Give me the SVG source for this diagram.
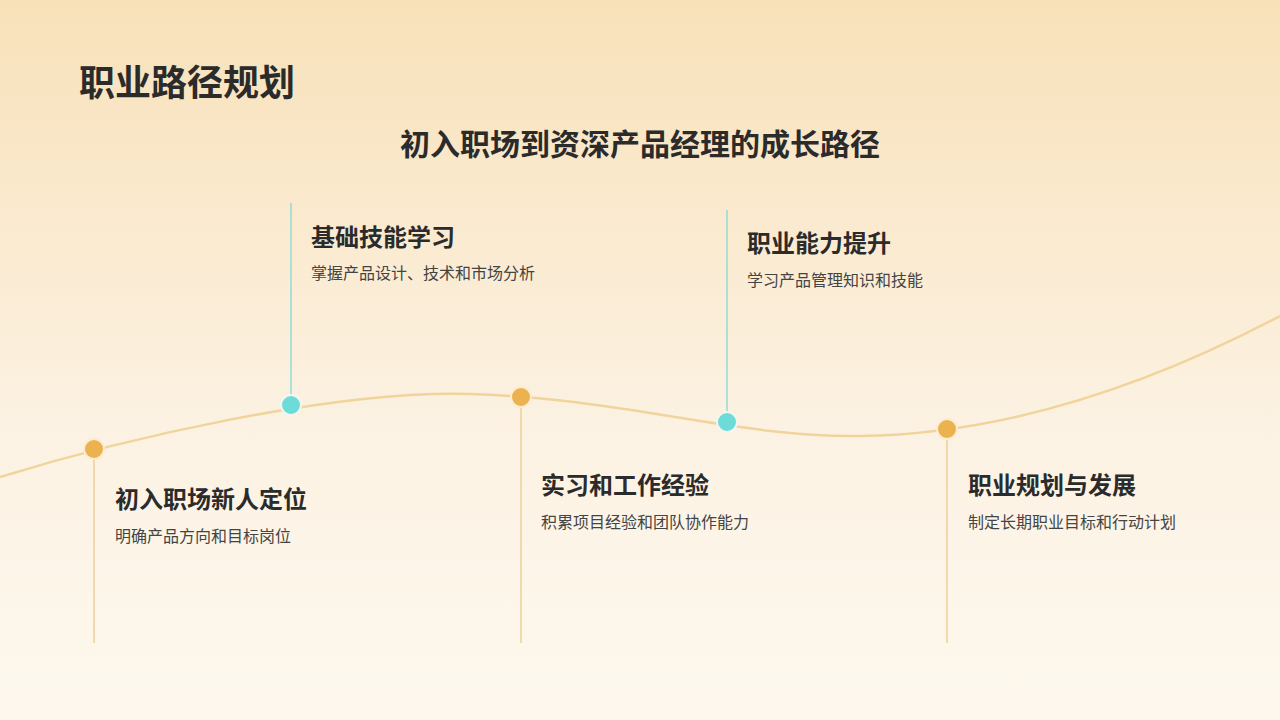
<svg xmlns="http://www.w3.org/2000/svg" width="1280" height="720" viewBox="0 0 1280 720">
<defs>
<linearGradient id="bg" x1="0" y1="0" x2="0" y2="1">
<stop offset="0" stop-color="#f8e1b9"/>
<stop offset="0.6" stop-color="#fcf2e3"/>
<stop offset="1" stop-color="#fdf8ee"/>
</linearGradient>
<style>
text{font-family:"Noto Sans CJK SC","Noto Sans",sans-serif}
.h{font-size:24px;font-weight:bold;fill:#2b2b2b}
.d{font-size:16px;fill:#444}
.lo{stroke:#efcf96;stroke-width:1.5}
.lc{stroke:#8fdcd6;stroke-width:1.5}
.o{fill:#ebb24f;stroke:#fbecd3;stroke-width:2}
.c{fill:#6ddcd8;stroke:#f3f6f0;stroke-width:2}
</style>
</defs>
<rect width="1280" height="720" fill="url(#bg)"/>
<text x="79" y="96" font-size="36" font-weight="bold" fill="#2b2b2b">职业路径规划</text>
<text x="640" y="155" font-size="30" font-weight="bold" fill="#2b2b2b" text-anchor="middle">初入职场到资深产品经理的成长路径</text>
<g id="connectors" fill="none">
<path d="M0,477 C120,440 330,390 470,394 C620,398 740,438 860,436 C1000,434 1140,390 1280,316" stroke="#f1d49c" stroke-width="2.5"/>
<line class="lo" x1="94" y1="449" x2="94" y2="643"/>
<line class="lc" x1="291" y1="405" x2="291" y2="203"/>
<line class="lo" x1="521" y1="397" x2="521" y2="643"/>
<line class="lc" x1="727" y1="422" x2="727" y2="210"/>
<line class="lo" x1="947" y1="429" x2="947" y2="643"/>
</g>
<g id="n1"><circle class="o" cx="94" cy="449" r="10"/><text class="h" x="115" y="508">初入职场新人定位</text><text class="d" x="115" y="542">明确产品方向和目标岗位</text></g>
<g id="n2"><circle class="c" cx="291" cy="405" r="10"/><text class="h" x="311" y="246">基础技能学习</text><text class="d" x="311" y="279">掌握产品设计、技术和市场分析</text></g>
<g id="n3"><circle class="o" cx="521" cy="397" r="10"/><text class="h" x="541" y="494">实习和工作经验</text><text class="d" x="541" y="528">积累项目经验和团队协作能力</text></g>
<g id="n4"><circle class="c" cx="727" cy="422" r="10"/><text class="h" x="747" y="252">职业能力提升</text><text class="d" x="747" y="286">学习产品管理知识和技能</text></g>
<g id="n5"><circle class="o" cx="947" cy="429" r="10"/><text class="h" x="968" y="494">职业规划与发展</text><text class="d" x="968" y="528">制定长期职业目标和行动计划</text></g>
</svg>
